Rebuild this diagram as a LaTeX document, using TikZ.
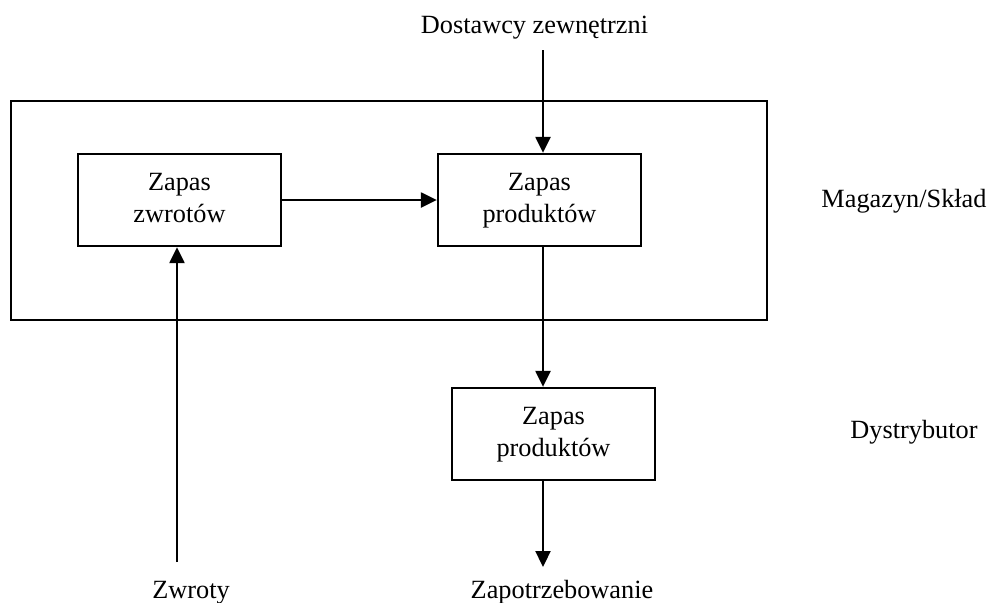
\documentclass[tikz,border=0pt]{standalone}
\usepackage{fontspec}
\setmainfont{Liberation Serif}
\usetikzlibrary{arrows.meta}
\begin{document}
\begin{tikzpicture}[x=1pt, y=-1pt,
  every node/.style={font=\fontsize{26.3}{32}\selectfont, inner sep=0pt},
  stockbox/.style={draw, line width=2.3pt, minimum width=203pt, minimum height=92pt, align=center},
  label/.style={anchor=base},
  arr/.style={line width=2.3pt, -{Triangle[length=16pt, width=15pt]}}]
  \useasboundingbox (0,0) rectangle (989,603);

  % warehouse frame
  \node[draw, line width=2.6pt, minimum width=756pt, minimum height=219pt] (mag) at (389,210.5) {};

  % stock boxes (struts keep the baselines equal in every box)
  \node[stockbox] (zw) at (179.5,200) {Zapas\strut\\zwrotów\strut};
  \node[stockbox] (pu) at (539.5,200) {Zapas\strut\\produktów\strut};
  \node[stockbox] (pd) at (553.5,434) {Zapas\strut\\produktów\strut};

  % outside labels
  \node[label] (dost) at (534.5,33) {Dostawcy zewnętrzni};
  \node[label] (maglab) at (904,207) {Magazyn/Skład};
  \node[label] (dyst) at (914,438) {Dystrybutor};
  \node[label] (zwr) at (191,598) {Zwroty};
  \node[label] (pop) at (562,598) {Zapotrzebowanie};

  % free ends of the flows
  \coordinate (dtop) at (543,50);
  \coordinate (zbot) at (177,562);
  \coordinate (pend) at (543,567);

  % flows
  \draw[arr] (dtop) -- (dtop |- pu.north);
  \draw[arr] (zw.east) -- (pu.west);
  \draw[arr] (dtop |- pu.south) -- (dtop |- pd.north);
  \draw[arr] (pend |- pd.south) -- (pend);
  \draw[arr] (zbot) -- (zbot |- zw.south);
\end{tikzpicture}
\end{document}
